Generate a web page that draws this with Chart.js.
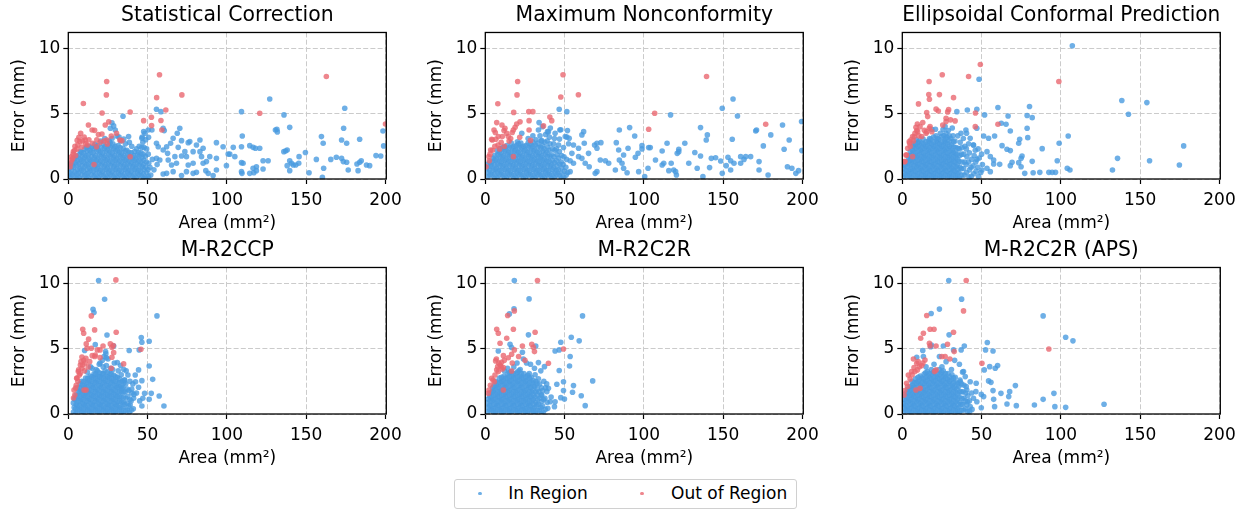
<!DOCTYPE html>
<html><head><meta charset="utf-8">
<script src="https://cdn.jsdelivr.net/npm/chart.js@4.4.0/dist/chart.umd.min.js"></script>
<style>
html,body{margin:0;padding:0;background:#fff;width:1245px;height:512px;overflow:hidden;font-family:'DejaVu Sans',sans-serif;}
canvas{position:absolute;}
#legend{position:absolute;left:454px;top:479px;width:341px;height:28px;border:1px solid #d0d0d0;border-radius:3px;background:#fff;}
.dot{position:absolute;width:3.6px;height:3.6px;border-radius:50%;}
.lt{position:absolute;font-size:17px;line-height:20px;color:#000;white-space:nowrap;font-family:'DejaVu Sans',sans-serif;}
</style></head><body>
<div id="legend"></div>
<script>
const titles = ['Statistical Correction','Maximum Nonconformity','Ellipsoidal Conformal Prediction','M-R2CCP','M-R2C2R','M-R2C2R (APS)'];
const xTicks = [0,50,100,150,200];
const xTickLabels = ['0','50','100','150','200'];
const yTicks = [0,5,10];
const yTickLabels = ['0','5','10'];
const seriesNames = ['In Region','Out of Region'];

// ---------- Statistical Correction ----------
const scInCore = [[0.8,0.1],[1.2,0.45],[0.6,0.8],[1.5,1.1],[0.4,0.3],[3.8,0.2],[4.2,0.55],[3.5,0.9],[4.4,1.25],[3.9,1.55],
[7,0.1],[6.6,0.45],[7.3,0.8],[6.8,1.15],[7.4,1.5],[6.9,1.85],[7.6,2.1],[10.2,0.25],[9.7,0.6],[10.4,0.95],[9.9,1.3],[10.3,1.65],[9.6,2.0],[10.5,2.3],
[13,0.1],[12.6,0.45],[13.4,0.8],[12.8,1.15],[13.3,1.5],[12.7,1.85],[13.5,2.2],[13.1,2.5],[16.2,0.25],[15.8,0.6],[16.5,0.95],[15.9,1.3],[16.4,1.65],[15.7,2.0],[16.3,2.35],[16.8,2.65],
[19,0.1],[19.4,0.45],[18.7,0.8],[19.3,1.15],[18.8,1.5],[19.5,1.85],[19.1,2.2],[18.6,2.55],[22.2,0.25],[21.7,0.6],[22.5,0.95],[21.9,1.3],[22.4,1.65],[21.8,2.0],[22.6,2.35],[22.1,2.7],
[25,0.1],[25.4,0.45],[24.7,0.8],[25.3,1.15],[24.8,1.5],[25.5,1.85],[24.9,2.2],[25.4,2.55],[25.8,2.9],[28.2,0.25],[27.7,0.6],[28.5,0.95],[27.9,1.3],[28.4,1.65],[27.8,2.0],[28.6,2.35],[28.1,2.7],[27.6,3.1],
[31,0.1],[31.4,0.45],[30.7,0.8],[31.3,1.15],[30.8,1.5],[31.5,1.85],[30.9,2.2],[31.4,2.55],[34.2,0.25],[33.7,0.6],[34.5,0.95],[33.9,1.3],[34.4,1.65],[33.8,2.0],[34.6,2.35],
[37,0.1],[37.4,0.45],[36.7,0.8],[37.3,1.15],[36.8,1.5],[37.5,1.85],[36.9,2.2],[40.2,0.25],[39.7,0.6],[40.5,0.95],[39.9,1.3],[40.4,1.65],[39.8,2.0],
[43,0.1],[43.4,0.45],[42.7,0.8],[43.3,1.15],[42.8,1.5],[43.5,1.85],[46.2,0.25],[45.7,0.6],[46.5,0.95],[45.9,1.3],[46.4,1.65],[45.8,2.0],[46.3,2.4],[47,2.8],[46.6,3.2],
[49,0.1],[49.3,0.5],[48.7,0.9],[49.2,1.3],[48.6,1.75],[49.4,2.3],[48.8,3.0],[48.3,3.5],[52,0.3],[51.5,0.9],[53,1.5],[54,0.7],[56,1.1]];
const scInCore2 = [[2.5,0.3],[2.2,0.65],[2.7,1.0],[2.4,1.3],[5.5,0.05],[5.3,0.4],[5.7,0.75],[5.4,1.1],[5.6,1.45],[5.2,1.75],
[8.5,0.3],[8.3,0.65],[8.7,1.0],[8.4,1.35],[8.6,1.7],[8.3,2.05],[11.5,0.05],[11.3,0.4],[11.7,0.75],[11.4,1.1],[11.6,1.45],[11.2,1.8],[11.8,2.15],[11.5,2.45],
[14.5,0.3],[14.3,0.65],[14.7,1.0],[14.4,1.35],[14.6,1.7],[14.3,2.05],[14.7,2.4],[17.5,0.05],[17.3,0.4],[17.7,0.75],[17.4,1.1],[17.6,1.45],[17.2,1.8],[17.8,2.15],[17.5,2.45],
[20.5,0.3],[20.3,0.65],[20.7,1.0],[20.4,1.35],[20.6,1.7],[20.3,2.05],[20.7,2.4],[23.5,0.05],[23.3,0.4],[23.7,0.75],[23.4,1.1],[23.6,1.45],[23.2,1.8],[23.8,2.15],[23.5,2.5],
[26.5,0.3],[26.3,0.65],[26.7,1.0],[26.4,1.35],[26.6,1.7],[26.3,2.05],[26.7,2.4],[26.4,2.75],[29.5,0.05],[29.3,0.4],[29.7,0.75],[29.4,1.1],[29.6,1.45],[29.2,1.8],[29.8,2.15],[29.5,2.5],
[32.5,0.3],[32.3,0.65],[32.7,1.0],[32.4,1.35],[32.6,1.7],[32.3,2.05],[32.7,2.4],[35.5,0.05],[35.3,0.4],[35.7,0.75],[35.4,1.1],[35.6,1.45],[35.2,1.8],[35.8,2.15],
[38.5,0.3],[38.3,0.65],[38.7,1.0],[38.4,1.35],[38.6,1.7],[38.3,2.05],[41.5,0.05],[41.3,0.4],[41.7,0.75],[41.4,1.1],[41.6,1.45],[41.2,1.8],[41.8,2.1],
[44.5,0.3],[44.3,0.65],[44.7,1.0],[44.4,1.35],[44.6,1.7],[44.3,2.05],[44.7,2.5],[47.5,0.05],[47.3,0.4],[47.7,0.75],[47.4,1.1],[47.6,1.45],[47.2,1.9],[47.8,2.4],
[50.5,0.2],[50.3,0.7],[50.7,1.2],[50.4,1.9]];
const scInSparse = [[55.6,5.33],[58.4,5.15],[34.5,4.8],[27.5,4.3],[28.6,4.06],[29.6,3.75],[26.5,3.88],[30.7,3.29],[127,6.12],[109.2,5.15],[174.3,5.41],[136,4.9],[173.6,3.88],[139.6,3.95],[130.6,3.75],[131.5,3.8],[131.8,3.6],[109.7,3.29],[159.6,3.24],[160.7,2.73],[175.5,2.73],[172.3,2.98],[183.7,3.04],[198.4,3.67],[198.8,2.53],[70.3,3.88],[68.7,3.5],[60.5,3.7],[59.8,3.88],[50.4,3.75],[66.1,3.11],[83,2.98],[75.6,2.78],[76.6,2.86],[71.4,2.93],[80.8,2.6],[85,2.35],[93.4,2.78],[97.6,2.47],[104,2.42],[109.2,2.47],[114.4,2.55],[116.5,2.42],[118,2.35],[120.7,2.35],[135.9,2.09],[138,2.22],[137,2.14],[100.8,1.91],[101.8,1.9],[105,1.71],[109.2,1.25],[110.2,1.2],[122.8,1.4],[126,1.4],[139.6,1.4],[140.7,1.2],[141.8,1.07],[145.3,1.2],[143.4,1.07],[145.5,1.71],[149.5,2.02],[138,1.02],[156.4,1.5],[165.5,1.5],[169,1.66],[172.3,1.58],[173.4,1.33],[175.5,1.28],[176.5,0.69],[182,1.15],[183.7,1.28],[184.7,1.4],[190,1.02],[194,1.79],[197,1.76],[182.7,0.64],[161,0.82],[160.2,0.13],[151.8,0.48],[139.6,0.64],[122.8,0.77],[118.6,0.64],[114.4,0.43],[117,0.48],[118.6,0.94],[116.5,0.82],[109.2,0.56],[109.5,0.43],[99.7,1.02],[93.4,0.69],[91.3,0.26],[88.2,0.43],[86.7,0.64],[80.8,0.51],[78.7,0.43],[74.5,0.56],[71.4,0.26],[66.1,0.56],[59.8,0.38],[62,0.43],[93.4,1.58],[87.1,1.33],[85,1.2],[84,1.71],[78.7,1.2],[75.6,1.07],[74.5,1.71],[71.4,1.76],[68.2,1.2],[67.2,1.71],[65.1,1.07],[62.6,1.96],[59.8,2.22],[56.7,2.47],[55.6,1.58],[57.7,1.45],[63,1.45],[62,2.47],[55.6,2.73],[64.5,2.73],[69.3,2.42],[73.5,2.09],[78.7,2.09],[83,2.09],[89.2,1.71],[188,1.07],[38,3.24],[46.4,3.11],[47.5,3.62],[50.6,3.19],[52.7,3.75],[33,2.9],[36,2.7],[40,2.5],[43,2.3],[38.5,2.8],[20.5,2.9],[23,3.1],[32,3.2],[35,3.05]];
const scOut = [[24.2,7.45],[24,6.43],[9.5,5.77],[57.5,7.97],[55.7,6.22],[71.6,6.43],[162.7,7.83],[120.7,5.03],[61.5,5.28],[52.4,4.72],[58.4,4.47],[39,5.12],[21.3,5.05],[25.5,4.37],[23.3,4.13],[47.5,4.46],[52.5,4.08],[59,3.75],[200,4.2],[12.7,4.13],[15,3.75],[16.6,3.72],[7.8,3.5],[21.2,3.44],[6.7,3.19],[5.6,2.95],[10.7,2.98],[24.4,2.98],[33.8,2.93],[4.2,2.5],[8.5,2.45],[15.4,2.73],[27.1,3.29],[17.8,2.47],[2.2,1.45],[1.1,0.94],[39,1.7],[16.2,1.1],[4.6,1.8],[2.8,1.58],[7.3,2.86],[22.5,2.9],[24.6,2.68],[3.2,2.1],[5.5,2.3],[12,2.6],[30.4,3.5],[32.5,2.98],[1.5,1.2],[2,1.7],[3,1.9],[4,2.2],[6,2.6],[9,2.9],[10,3.2],[11,2.7],[13,3.0],[18,3.0],[19,3.4],[20,2.8]];

// ---------- Maximum Nonconformity ----------
const mncInCore = [[1.2,0.15],[1.8,0.5],[1.0,0.85],[1.6,1.15],[4.3,0.3],[4.8,0.65],[4.1,1.0],[4.6,1.35],[5,1.6],
[7.4,0.1],[7.8,0.45],[7.1,0.8],[7.7,1.15],[7.2,1.5],[7.9,1.85],[7.5,2.15],[10.6,0.3],[10.1,0.65],[10.8,1.0],[10.3,1.35],[10.7,1.7],[10.2,2.05],[10.9,2.4],
[13.4,0.1],[13.9,0.45],[13.2,0.8],[13.7,1.15],[13.3,1.5],[13.8,1.85],[13.1,2.2],[13.6,2.55],[16.6,0.3],[16.1,0.65],[16.9,1.0],[16.3,1.35],[16.7,1.7],[16.2,2.05],[16.8,2.4],[16.4,2.75],
[19.4,0.1],[19.9,0.45],[19.2,0.8],[19.7,1.15],[19.3,1.5],[19.8,1.85],[19.1,2.2],[19.6,2.55],[20.2,2.85],[22.6,0.3],[22.1,0.65],[22.9,1.0],[22.3,1.35],[22.7,1.7],[22.2,2.05],[22.8,2.4],[22.4,2.75],
[25.4,0.1],[25.9,0.45],[25.2,0.8],[25.7,1.15],[25.3,1.5],[25.8,1.85],[25.1,2.2],[25.6,2.55],[28.6,0.3],[28.1,0.65],[28.9,1.0],[28.3,1.35],[28.7,1.7],[28.2,2.05],[28.8,2.4],[28.4,2.7],
[31.4,0.1],[31.9,0.45],[31.2,0.8],[31.7,1.15],[31.3,1.5],[31.8,1.85],[31.1,2.2],[31.6,2.6],[32,3.0],[34.6,0.3],[34.1,0.65],[34.9,1.0],[34.3,1.35],[34.7,1.7],[34.2,2.05],[34.8,2.45],[35.2,2.9],[34.5,3.3],
[37.4,0.1],[37.9,0.45],[37.2,0.8],[37.7,1.15],[37.3,1.5],[37.8,1.9],[37.1,2.3],[37.6,2.8],[38,3.4],[40.6,0.3],[40.1,0.65],[40.9,1.0],[40.3,1.35],[40.7,1.75],[40.2,2.2],[40.8,2.7],[40.4,3.2],[39.8,3.6],
[43.4,0.1],[43.9,0.45],[43.2,0.85],[43.7,1.25],[43.3,1.7],[43.8,2.2],[43.1,2.7],[43.6,3.1],[46.6,0.3],[46.1,0.7],[46.9,1.15],[46.3,1.6],[46.7,2.1],[46.2,2.6],[46.8,3.05],[47,3.75],
[49.4,0.15],[49.8,0.6],[49.1,1.1],[49.6,1.7],[49.3,2.4],[33.9,4.31],[23,3.5],[33.5,3.75],[39.2,3.62],[47.6,3.77],[51.4,3.2],[35.6,2.93],[46.6,5.33],[51.4,5.15],[52,0.5],[53.5,1.4],[52.5,2.7],[44,3.5],[36,4.0],[41,3.9],[30,3.3],[27,3.1]];
const mncInCore2 = [[3,0.3],[2.8,0.65],[3.2,1.0],[2.9,1.3],[6,0.05],[5.8,0.4],[6.2,0.75],[5.9,1.1],[6.1,1.45],[5.8,1.8],
[9,0.3],[8.8,0.65],[9.2,1.0],[8.9,1.35],[9.1,1.7],[8.8,2.05],[9.2,2.3],[12,0.05],[11.8,0.4],[12.2,0.75],[11.9,1.1],[12.1,1.45],[11.7,1.8],[12.3,2.15],[12,2.45],
[15,0.3],[14.8,0.65],[15.2,1.0],[14.9,1.35],[15.1,1.7],[14.8,2.05],[15.2,2.4],[18,0.05],[17.8,0.4],[18.2,0.75],[17.9,1.1],[18.1,1.45],[17.7,1.8],[18.3,2.15],[18,2.5],
[21,0.3],[20.8,0.65],[21.2,1.0],[20.9,1.35],[21.1,1.7],[20.8,2.05],[21.2,2.4],[21,2.7],[24,0.05],[23.8,0.4],[24.2,0.75],[23.9,1.1],[24.1,1.45],[23.7,1.8],[24.3,2.15],[24,2.5],
[27,0.3],[26.8,0.65],[27.2,1.0],[26.9,1.35],[27.1,1.7],[26.8,2.05],[27.2,2.4],[27,2.75],[30,0.05],[29.8,0.4],[30.2,0.75],[29.9,1.1],[30.1,1.45],[29.7,1.8],[30.3,2.15],[30,2.5],[29.8,2.85],
[33,0.3],[32.8,0.65],[33.2,1.0],[32.9,1.35],[33.1,1.7],[32.8,2.05],[33.2,2.4],[33,2.75],[36,0.05],[35.8,0.4],[36.2,0.75],[35.9,1.1],[36.1,1.45],[35.7,1.8],[36.3,2.15],[36,2.55],
[39,0.3],[38.8,0.65],[39.2,1.0],[38.9,1.35],[39.1,1.7],[38.8,2.05],[39.2,2.45],[39,2.9],[42,0.05],[41.8,0.4],[42.2,0.75],[41.9,1.1],[42.1,1.45],[41.7,1.85],[42.3,2.3],
[45,0.3],[44.8,0.65],[45.2,1.0],[44.9,1.4],[45.1,1.85],[44.8,2.3],[48,0.05],[47.8,0.45],[48.2,0.85],[47.9,1.3],[48.1,1.8],[51,0.3],[50.8,0.9],[51.2,1.5]];
const mncInSparse = [[149.4,5.41],[156.2,6.12],[159,4.82],[116.8,4.9],[187.4,4.13],[199.4,4.39],[135.7,3.93],[140,3.37],[139.3,2.98],[155.7,3.04],[170.5,3.67],[171,3.75],[180,3.37],[191.6,2.98],[175.3,2.53],[188.4,2.27],[199.6,2.17],[91,3.93],[84.5,3.75],[94.2,3.29],[62,3.62],[60.9,3.37],[51.8,3.7],[50.4,3.24],[52.9,3.11],[68.9,2.6],[70.4,2.73],[72.9,2.78],[70.4,2.35],[82.6,2.78],[84.1,2.22],[90,2.35],[98.8,2.55],[98.8,2.3],[103,2.4],[104,2.4],[114.6,2.73],[111.5,2.14],[122,2.09],[121,1.96],[125.8,2.73],[122,2.27],[132.1,2.02],[135.7,1.76],[142.5,1.58],[145.2,1.63],[148.4,1.38],[151.9,1.02],[153,1.66],[154.7,1.4],[154.7,0.69],[156.8,1.2],[161,1.71],[163.1,1.5],[164.2,1.71],[167.3,1.71],[172.6,1.33],[172.6,0.69],[161,1.2],[133.6,0.82],[141.4,0.87],[137.2,0.18],[149.4,0.43],[178.3,0.31],[190.5,0.94],[193.3,0.82],[195.8,0.43],[197.5,0.64],[128.3,1.2],[117.2,1.2],[120,0.56],[118.8,0.69],[120.5,0.31],[115.7,0.64],[111.5,1.07],[112.5,1.2],[107.3,1.45],[102.6,0.82],[100.5,0.18],[96.7,0.56],[89.4,0.48],[87.2,0.82],[86.2,1.2],[87.2,1.84],[84.5,1.45],[82,0.69],[77.8,1.2],[75.7,1.4],[72.5,1.45],[70.4,0.56],[69.3,0.43],[65.5,0.94],[63,1.2],[60.9,1.58],[65.1,1.96],[58.8,1.71],[55.6,1.2],[54.6,1.96],[58.8,2.35],[55.6,2.6],[62.4,2.73],[53.5,0.56],[96.3,1.96],[94.6,1.66]];
const mncOut = [[20.4,7.45],[20,6.43],[7.9,5.75],[49,7.97],[47.6,6.27],[58.7,6.44],[139.5,7.83],[106.8,5.03],[103,3.8],[176.8,4.18],[17.9,5.09],[27.4,5.15],[30,5.15],[21.9,4.37],[19.8,4.2],[18.8,3.95],[17.7,3.75],[10.5,4.13],[12.4,3.88],[7.2,4.31],[40.7,4.74],[41.9,4.46],[27.6,4.46],[36.7,4.06],[27.6,3.75],[8.2,3.24],[6.3,3.55],[5.5,3.75],[4,3.04],[10.7,3.24],[13.5,3.5],[14.5,3.24],[28.5,2.95],[17.7,1.71],[17,3.55],[4.4,2.98],[6.6,3.04],[21.7,3.19],[2.3,1.71],[3.4,2.22],[0.5,0.94],[2.5,1.4],[4.5,2.2],[6,2.5],[8,2.6],[10,2.8],[12,2.5],[15,2.9],[3,1.9],[9,2.3],[11.8,3.7],[16,3.1]];

// ---------- Ellipsoidal Conformal Prediction ----------
const ecpInCore = [[0.8,0.1],[1.3,0.45],[0.7,0.8],[1.4,1.1],[3.4,0.25],[3.8,0.6],[3.2,0.95],[3.7,1.3],[3.9,1.6],
[6.1,0.1],[5.7,0.45],[6.3,0.8],[5.8,1.15],[6.2,1.5],[5.9,1.85],[6.4,2.2],[6.6,2.5],[8.6,0.25],[8.2,0.6],[8.9,0.95],[8.3,1.3],[8.7,1.65],[8.4,2.0],[8.8,2.35],[8.5,2.7],[9,3.0],
[11.1,0.1],[10.7,0.45],[11.3,0.8],[10.8,1.15],[11.2,1.5],[10.9,1.85],[11.4,2.2],[11,2.55],[10.6,2.9],[13.6,0.25],[13.2,0.6],[13.9,0.95],[13.3,1.3],[13.7,1.65],[13.4,2.0],[13.8,2.35],[13.5,2.7],[13.1,3.05],
[16.1,0.1],[15.7,0.45],[16.3,0.8],[15.8,1.15],[16.2,1.5],[15.9,1.85],[16.4,2.2],[16,2.55],[16.5,2.9],[18.6,0.25],[18.2,0.6],[18.9,0.95],[18.3,1.3],[18.7,1.65],[18.4,2.0],[18.8,2.35],[18.5,2.7],[18.1,3.05],
[21.1,0.1],[20.7,0.45],[21.3,0.8],[20.8,1.15],[21.2,1.5],[20.9,1.85],[21.4,2.2],[21,2.55],[21.5,2.9],[21.2,3.3],[23.6,0.25],[23.2,0.6],[23.9,0.95],[23.3,1.3],[23.7,1.65],[23.4,2.0],[23.8,2.35],[23.5,2.7],[23.1,3.05],[24,3.5],
[26.1,0.1],[25.7,0.45],[26.3,0.8],[25.8,1.15],[26.2,1.5],[25.9,1.85],[26.4,2.2],[26,2.55],[26.5,2.9],[26.2,3.3],[25.7,3.8],[28.6,0.25],[28.2,0.6],[28.9,0.95],[28.3,1.3],[28.7,1.65],[28.4,2.0],[28.8,2.35],[28.5,2.75],[28.1,3.2],[29,3.7],
[31.1,0.1],[30.7,0.45],[31.3,0.8],[30.8,1.15],[31.2,1.5],[30.9,1.85],[31.4,2.2],[31,2.6],[30.6,3.1],[31.5,3.9],[33.6,0.25],[33.2,0.6],[33.9,0.95],[33.3,1.3],[33.7,1.65],[33.4,2.0],[33.8,2.4],[33.2,2.9],
[36.1,0.1],[35.7,0.5],[36.3,0.9],[35.8,1.35],[36.2,1.8],[35.9,2.3],[36.5,2.8],[39,0.3],[38.6,0.8],[39.3,1.3],[38.8,1.9],[39.4,2.5],[38.5,3.1],
[42,0.15],[42.4,0.7],[41.7,1.3],[42.3,2.0],[41.8,2.7],[45,0.4],[44.6,1.0],[45.3,1.8],[44.8,2.6],[48,0.2],[47.6,0.9],[48.4,1.6],[47.8,2.3],
[42.8,3.11],[47,3.88],[44.9,2.6],[46,2.2],[47,1.5],[50,1.9],[50.5,1.1],[49.5,0.5],[37,3.5],[35,3.3],[32,3.3],[27,4.0]];
const ecpInCore2 = [[2.1,0.3],[2.3,0.65],[1.9,1.0],[2.4,1.3],[4.8,0.05],[4.6,0.4],[5,0.75],[4.7,1.1],[4.9,1.45],[4.6,1.8],[5,2.1],
[7.3,0.3],[7.1,0.65],[7.5,1.0],[7.2,1.35],[7.4,1.7],[7.1,2.05],[7.5,2.4],[7.3,2.7],[9.8,0.05],[9.6,0.4],[10,0.75],[9.7,1.1],[9.9,1.45],[9.5,1.8],[10.1,2.15],[9.8,2.5],[9.9,2.8],
[12.3,0.3],[12.1,0.65],[12.5,1.0],[12.2,1.35],[12.4,1.7],[12.1,2.05],[12.5,2.4],[12.3,2.75],[14.8,0.05],[14.6,0.4],[15,0.75],[14.7,1.1],[14.9,1.45],[14.5,1.8],[15.1,2.15],[14.8,2.5],[14.9,2.85],
[17.3,0.3],[17.1,0.65],[17.5,1.0],[17.2,1.35],[17.4,1.7],[17.1,2.05],[17.5,2.4],[17.3,2.75],[17.2,3.1],[19.8,0.05],[19.6,0.4],[20,0.75],[19.7,1.1],[19.9,1.45],[19.5,1.8],[20.1,2.15],[19.8,2.5],[19.9,2.85],[19.7,3.2],
[22.3,0.3],[22.1,0.65],[22.5,1.0],[22.2,1.35],[22.4,1.7],[22.1,2.05],[22.5,2.4],[22.3,2.75],[22.2,3.1],[24.8,0.05],[24.6,0.4],[25,0.75],[24.7,1.1],[24.9,1.45],[24.5,1.8],[25.1,2.15],[24.8,2.5],[24.9,2.85],[24.7,3.25],
[27.3,0.3],[27.1,0.65],[27.5,1.0],[27.2,1.35],[27.4,1.7],[27.1,2.05],[27.5,2.4],[27.3,2.75],[27.2,3.1],[27.5,3.5],[29.8,0.05],[29.6,0.4],[30,0.75],[29.7,1.1],[29.9,1.45],[29.5,1.8],[30.1,2.15],[29.8,2.5],[29.9,2.9],[29.7,3.3],
[32.3,0.3],[32.1,0.65],[32.5,1.0],[32.2,1.35],[32.4,1.7],[32.1,2.05],[32.5,2.45],[32.3,2.85],[34.8,0.05],[34.6,0.4],[35,0.75],[34.7,1.1],[34.9,1.5],[34.5,1.9],[35.1,2.35],
[37.5,0.3],[37.3,0.8],[37.7,1.3],[37.4,1.9],[37.6,2.4],[40.5,0.5],[40.3,1.1],[40.7,1.7],[40.4,2.3],[43.5,0.2],[43.3,0.9],[43.7,1.5],[46.5,0.6],[46.3,1.3]];
const ecpInSparse = [[107.2,10.18],[48.4,7.63],[138.4,6.0],[154.2,5.84],[142.6,4.95],[60.3,5.46],[80.2,5.54],[78.7,4.85],[81.9,4.69],[66.7,4.82],[65.4,4.18],[62.4,4.26],[51.9,4.9],[47,5.33],[34.4,5.15],[41,5.28],[78.7,3.88],[68.1,3.67],[104.6,3.29],[79.1,3.16],[74,3.04],[73.4,2.73],[58.2,3.29],[54.4,3.11],[51.3,3.29],[98.9,2.73],[88.2,2.32],[62.9,2.55],[66,2.27],[68.1,2.17],[177.4,2.53],[135.7,1.58],[155.9,1.4],[174.7,1.07],[132.5,0.69],[97.7,1.4],[81.9,1.35],[74.9,1.58],[75.5,1.76],[73.4,1.25],[69.2,1.28],[68.1,1.02],[57.6,1.45],[55.5,1.71],[53.4,2.09],[61.4,1.12],[57.6,1.15],[104,0.82],[105.7,0.69],[92.4,0.51],[94.5,0.51],[96.6,0.51],[86.7,0.51],[82.5,0.48],[77.2,0.43],[74.9,0.94],[55.5,0.56],[53.4,0.82],[50.2,0.69],[40.1,3.75],[40.5,3.5],[20.9,3.8],[18.6,3.8]];
const ecpOut = [[49.2,8.75],[25.2,7.97],[16.9,7.45],[41.8,7.83],[98.7,7.45],[16.7,6.45],[17.1,6.1],[23.4,6.45],[32.3,6.22],[10.2,5.74],[21.3,5.34],[22.7,5.2],[15.4,5.08],[16,4.77],[29.2,5.3],[28.6,5.13],[27.6,4.64],[30.4,4.52],[33.3,4.44],[46.1,5.05],[46,4.0],[60.3,4.18],[25.5,4.13],[27.6,4.39],[9.5,4.2],[11.2,4.0],[12.9,4.31],[17.5,4.0],[17,3.88],[13.9,3.72],[18.6,3.62],[15,3.5],[9.1,3.7],[8.6,3.95],[9.7,3.62],[8,3.5],[7.6,3.24],[6.5,3.24],[12.2,3.24],[15.4,3.62],[5.5,3.0],[4.6,2.73],[4.4,2.86],[3.4,2.35],[2.3,1.84],[1.3,1.33],[2.7,1.84],[1.7,1.33],[6.5,1.71],[5,2.5],[7,2.9],[10.5,3.3]];

// ---------- M-R2CCP ----------
const r2ccpInCore = [[3.3,0.15],[3.7,0.5],[3.2,0.85],[3.8,1.15],[6,0.3],[5.6,0.65],[6.2,1.0],[5.8,1.35],[6.3,1.7],[5.7,2.0],
[8.5,0.1],[8.1,0.45],[8.8,0.8],[8.3,1.15],[8.7,1.5],[8.2,1.85],[8.9,2.2],[8.4,2.5],[11,0.3],[10.6,0.65],[11.3,1.0],[10.8,1.35],[11.2,1.7],[10.7,2.05],[11.4,2.4],[10.9,2.75],
[13.5,0.1],[13.1,0.45],[13.8,0.8],[13.3,1.15],[13.7,1.5],[13.2,1.85],[13.9,2.2],[13.4,2.55],[13.8,2.9],[16,0.3],[15.6,0.65],[16.3,1.0],[15.8,1.35],[16.2,1.7],[15.7,2.05],[16.4,2.4],[15.9,2.75],[16.3,3.1],
[18.5,0.1],[18.1,0.45],[18.8,0.8],[18.3,1.15],[18.7,1.5],[18.2,1.85],[18.9,2.2],[18.4,2.55],[18.8,2.9],[18.3,3.3],[21,0.3],[20.6,0.65],[21.3,1.0],[20.8,1.35],[21.2,1.7],[20.7,2.05],[21.4,2.4],[20.9,2.75],[21.3,3.1],
[23.5,0.1],[23.1,0.45],[23.8,0.8],[23.3,1.15],[23.7,1.5],[23.2,1.85],[23.9,2.2],[23.4,2.55],[23.8,2.9],[23.2,3.3],[24,3.7],[26,0.3],[25.6,0.65],[26.3,1.0],[25.8,1.35],[26.2,1.7],[25.7,2.05],[26.4,2.4],[25.9,2.75],[26.3,3.1],[26.7,3.5],
[28.5,0.1],[28.1,0.45],[28.8,0.8],[28.3,1.15],[28.7,1.5],[28.2,1.85],[28.9,2.2],[28.4,2.55],[28.8,2.95],[31,0.3],[30.6,0.65],[31.3,1.0],[30.8,1.35],[31.2,1.7],[30.7,2.05],[31.4,2.4],[30.9,2.8],
[33.5,0.1],[33.1,0.5],[33.8,0.9],[33.3,1.3],[33.7,1.7],[33.2,2.1],[33.9,2.5],[33.4,3.0],[36,0.3],[35.6,0.75],[36.3,1.2],[35.8,1.7],[36.2,2.3],[35.5,2.6],
[38.5,0.15],[38.1,0.6],[38.8,1.1],[38.2,1.8],[38.9,2.5],[41,0.4],[41.4,1.5],[40.7,2.3],[28,3.4],[31.5,3.3],[22,3.6],[19.5,3.8],[15,3.5],[12,3.2],[35,3.4],[25,4.2]];
const r2ccpInCore2 = [[4.8,0.05],[4.6,0.4],[5,0.75],[4.7,1.1],[4.9,1.45],[7.3,0.3],[7.1,0.65],[7.5,1.0],[7.2,1.35],[7.4,1.7],[7.1,2.05],[7.4,2.3],
[9.8,0.05],[9.6,0.4],[10,0.75],[9.7,1.1],[9.9,1.45],[9.5,1.8],[10.1,2.15],[9.8,2.5],[12.3,0.3],[12.1,0.65],[12.5,1.0],[12.2,1.35],[12.4,1.7],[12.1,2.05],[12.5,2.4],[12.3,2.75],
[14.8,0.05],[14.6,0.4],[15,0.75],[14.7,1.1],[14.9,1.45],[14.5,1.8],[15.1,2.15],[14.8,2.5],[14.9,2.85],[17.3,0.3],[17.1,0.65],[17.5,1.0],[17.2,1.35],[17.4,1.7],[17.1,2.05],[17.5,2.4],[17.3,2.75],[17.2,3.05],
[19.8,0.05],[19.6,0.4],[20,0.75],[19.7,1.1],[19.9,1.45],[19.5,1.8],[20.1,2.15],[19.8,2.5],[19.9,2.85],[19.7,3.15],[22.3,0.3],[22.1,0.65],[22.5,1.0],[22.2,1.35],[22.4,1.7],[22.1,2.05],[22.5,2.4],[22.3,2.75],[22.2,3.1],
[24.8,0.05],[24.6,0.4],[25,0.75],[24.7,1.1],[24.9,1.45],[24.5,1.8],[25.1,2.15],[24.8,2.5],[24.9,2.85],[24.7,3.2],[27.3,0.3],[27.1,0.65],[27.5,1.0],[27.2,1.35],[27.4,1.7],[27.1,2.05],[27.5,2.4],[27.3,2.75],[27.2,3.05],
[29.8,0.05],[29.6,0.4],[30,0.75],[29.7,1.1],[29.9,1.45],[29.5,1.8],[30.1,2.15],[29.8,2.5],[29.9,2.85],[32.3,0.3],[32.1,0.65],[32.5,1.0],[32.2,1.35],[32.4,1.7],[32.1,2.05],[32.5,2.4],[32.3,2.7],
[34.8,0.05],[34.6,0.45],[35,0.85],[34.7,1.25],[34.9,1.65],[34.5,2.05],[35.1,2.4],[37.3,0.3],[37.1,0.8],[37.5,1.35],[37.2,1.9],[39.8,0.3],[39.6,1.0],[40,1.6]];
const r2ccpInSparse = [[19.1,10.2],[22.9,8.77],[15.6,8.01],[16.2,7.75],[55.9,7.5],[24.4,6.04],[17,5.3],[46,5.84],[46.4,5.48],[51,5.56],[44.7,4.9],[38.4,4.85],[10.3,4.85],[28.6,5.2],[23.5,4.77],[23.7,4.6],[44.3,3.37],[51,3.67],[42.2,2.98],[46.4,2.55],[53.2,2.65],[57.3,1.38],[60.3,0.61],[48.1,1.58],[52.3,1.58],[44.3,2.04],[41.2,1.2],[47,1.2],[46.4,0.61],[39,0.69],[51,1.12],[33.8,1.96],[35.5,2.6],[37.6,2.98],[42.4,2.47],[30.9,3.93],[20,3.9],[24,4.3],[29,3.9],[33,3.7],[36.5,3.3],[14,3.6],[17.5,3.4],[22.5,4.4],[21.5,4.1],[43,1.6],[40,1.9],[45,1.0]];
const r2ccpOut = [[30,10.25],[14.5,7.5],[9.1,6.48],[9.7,6.17],[16.6,6.43],[30.2,6.25],[11.3,5.36],[12.8,5.72],[11.8,5.03],[14.5,5.03],[21.9,5.2],[26.5,5.36],[27.5,5.1],[28.6,4.69],[17,4.51],[45.8,4.95],[34.9,3.83],[27.1,3.5],[27.5,4.34],[16.7,4.39],[11.2,1.84],[8.6,4.35],[9.7,4.1],[7.6,3.75],[8.6,3.5],[6.5,3.37],[7,2.98],[5.5,2.75],[4.6,1.99],[4.1,1.45],[3.3,1.22],[3.6,1.84],[5.3,2.73],[6.3,3.24],[9,3.75],[11.1,4.26],[15.1,4.46],[18.3,4.9],[20,4.9],[28.4,5.23],[20,4.31],[9.9,1.84],[8,4.0],[10.5,3.9],[7.5,3.1],[6,2.5],[5,2.2],[12.5,3.6],[10.2,3.3],[13.5,4.0]];

// ---------- M-R2C2R ----------
const r2c2rInCore = [[1.3,0.15],[1.7,0.5],[1.2,0.85],[1.8,1.15],[4,0.3],[3.6,0.65],[4.2,1.0],[3.8,1.35],[4.3,1.7],[4.6,2.0],
[6.5,0.1],[6.1,0.45],[6.8,0.8],[6.3,1.15],[6.7,1.5],[6.2,1.85],[6.9,2.2],[6.4,2.5],[9,0.3],[8.6,0.65],[9.3,1.0],[8.8,1.35],[9.2,1.7],[8.7,2.05],[9.4,2.4],[8.9,2.75],
[11.5,0.1],[11.1,0.45],[11.8,0.8],[11.3,1.15],[11.7,1.5],[11.2,1.85],[11.9,2.2],[11.4,2.55],[11.8,2.9],[14,0.3],[13.6,0.65],[14.3,1.0],[13.8,1.35],[14.2,1.7],[13.7,2.05],[14.4,2.4],[13.9,2.75],[14.3,3.1],
[16.5,0.1],[16.1,0.45],[16.8,0.8],[16.3,1.15],[16.7,1.5],[16.2,1.85],[16.9,2.2],[16.4,2.55],[16.8,2.9],[16.3,3.25],[19,0.3],[18.6,0.65],[19.3,1.0],[18.8,1.35],[19.2,1.7],[18.7,2.05],[19.4,2.4],[18.9,2.75],[19.3,3.1],
[21.5,0.1],[21.1,0.45],[21.8,0.8],[21.3,1.15],[21.7,1.5],[21.2,1.85],[21.9,2.2],[21.4,2.55],[21.8,2.9],[21.2,3.3],[24,0.3],[23.6,0.65],[24.3,1.0],[23.8,1.35],[24.2,1.7],[23.7,2.05],[24.4,2.4],[23.9,2.75],[24.3,3.1],
[26.5,0.1],[26.1,0.45],[26.8,0.8],[26.3,1.15],[26.7,1.5],[26.2,1.85],[26.9,2.2],[26.4,2.55],[26.8,2.95],[29,0.3],[28.6,0.65],[29.3,1.0],[28.8,1.35],[29.2,1.7],[28.7,2.05],[29.4,2.4],[28.9,2.8],
[31.5,0.1],[31.1,0.5],[31.8,0.9],[31.3,1.3],[31.7,1.7],[31.2,2.1],[31.9,2.5],[31.4,3.0],[34,0.3],[33.6,0.75],[34.3,1.2],[33.8,1.7],[34.2,2.3],[33.5,2.7],
[36.5,0.15],[36.1,0.6],[36.8,1.1],[36.2,1.8],[36.9,2.5],[39,0.9],[38.7,2.3],[41.5,1.3]];
const r2c2rInCore2 = [[2.8,0.3],[2.6,0.65],[3,1.0],[2.7,1.35],[2.9,1.6],[5.3,0.05],[5.1,0.4],[5.5,0.75],[5.2,1.1],[5.4,1.45],[5.1,1.8],[5.5,2.15],
[7.8,0.3],[7.6,0.65],[8,1.0],[7.7,1.35],[7.9,1.7],[7.6,2.05],[8,2.4],[10.3,0.05],[10.1,0.4],[10.5,0.75],[10.2,1.1],[10.4,1.45],[10,1.8],[10.6,2.15],[10.3,2.5],[10.2,2.8],
[12.8,0.3],[12.6,0.65],[13,1.0],[12.7,1.35],[12.9,1.7],[12.6,2.05],[13,2.4],[12.8,2.75],[15.3,0.05],[15.1,0.4],[15.5,0.75],[15.2,1.1],[15.4,1.45],[15,1.8],[15.6,2.15],[15.3,2.5],[15.4,2.85],[15.2,3.15],
[17.8,0.3],[17.6,0.65],[18,1.0],[17.7,1.35],[17.9,1.7],[17.6,2.05],[18,2.4],[17.8,2.75],[17.7,3.1],[20.3,0.05],[20.1,0.4],[20.5,0.75],[20.2,1.1],[20.4,1.45],[20,1.8],[20.6,2.15],[20.3,2.5],[20.4,2.85],[20.2,3.2],
[22.8,0.3],[22.6,0.65],[23,1.0],[22.7,1.35],[22.9,1.7],[22.6,2.05],[23,2.4],[22.8,2.75],[22.7,3.1],[25.3,0.05],[25.1,0.4],[25.5,0.75],[25.2,1.1],[25.4,1.45],[25,1.8],[25.6,2.15],[25.3,2.5],[25.4,2.85],
[27.8,0.3],[27.6,0.65],[28,1.0],[27.7,1.35],[27.9,1.7],[27.6,2.05],[28,2.4],[27.8,2.75],[27.7,3.1],[30.3,0.05],[30.1,0.4],[30.5,0.75],[30.2,1.1],[30.4,1.45],[30,1.8],[30.6,2.15],[30.3,2.55],
[32.8,0.3],[32.6,0.7],[33,1.1],[32.7,1.5],[32.9,1.9],[32.6,2.3],[35.3,0.05],[35.1,0.5],[35.5,0.95],[35.2,1.45],[35.4,2.0],[37.8,0.35],[37.6,1.2],[38,2.0]];
const r2c2rInSparse = [[18.3,10.2],[27.6,8.8],[18.1,8.04],[15.2,7.65],[61.3,7.5],[27.2,6.05],[15.6,5.33],[16.6,5.08],[8.2,4.82],[23.4,4.72],[54.2,5.87],[59.2,5.59],[53.5,4.39],[47.6,5.49],[44,4.82],[46.6,4.9],[31.8,5.2],[33.5,3.93],[37.3,3.62],[46.6,3.32],[53.1,3.67],[67.7,2.53],[55.6,2.17],[49.3,2.47],[45.1,2.27],[55,1.66],[49.3,1.79],[60.5,1.4],[63,0.64],[49.9,1.15],[47.6,1.25],[43.6,0.56],[39.4,0.43],[38.8,1.71],[39.8,1.96],[44,0.94],[40.9,0.94],[35.6,1.45],[20,3.9],[24,4.2],[28.5,3.8],[31,3.5],[35,3.3],[14,3.5],[18,3.6],[22,3.4],[26,3.9],[12,3.3]];
const r2c2rOut = [[32.9,10.2],[18.3,7.88],[14.1,7.53],[7.2,6.48],[8.2,6.17],[17.7,6.48],[31.4,6.25],[13.5,5.79],[9.3,5.41],[23.4,5.2],[29.3,5.33],[30.3,5.1],[18.3,4.9],[16.6,4.57],[11.4,4.46],[49.3,4.97],[31,4.77],[39.8,3.88],[16.6,3.29],[11.4,1.84],[2.3,1.84],[1.9,1.58],[4,2.73],[6.5,4.06],[7.8,3.62],[9.9,3.62],[10.7,3.44],[7.2,3.37],[6.1,2.98],[8.2,3.24],[9.3,3.75],[11.4,3.55],[5.7,2.47],[8.5,3.9],[10.2,3.95],[7,4.2],[3.2,2.2],[4.8,2.6],[12,4.1],[14.5,4.3],[21,4.4],[17,3.9],[25,4.1]];

// ---------- M-R2C2R (APS) ----------
const apsInCore = [[0.9,0.1],[1.3,0.45],[0.7,0.8],[1.2,1.1],[3.5,0.25],[3.1,0.6],[3.8,0.95],[3.3,1.3],[3.7,1.6],[3.4,1.9],
[6,0.1],[5.6,0.45],[6.3,0.8],[5.8,1.15],[6.2,1.5],[5.7,1.85],[6.4,2.2],[6.1,2.5],[8.5,0.25],[8.1,0.6],[8.8,0.95],[8.3,1.3],[8.7,1.65],[8.2,2.0],[8.9,2.35],[8.4,2.7],
[11,0.1],[10.6,0.45],[11.3,0.8],[10.8,1.15],[11.2,1.5],[10.7,1.85],[11.4,2.2],[10.9,2.55],[11.3,2.9],[13.5,0.25],[13.1,0.6],[13.8,0.95],[13.3,1.3],[13.7,1.65],[13.2,2.0],[13.9,2.35],[13.4,2.7],[13.8,3.05],
[16,0.1],[15.6,0.45],[16.3,0.8],[15.8,1.15],[16.2,1.5],[15.7,1.85],[16.4,2.2],[15.9,2.55],[16.3,2.9],[15.8,3.25],[18.5,0.25],[18.1,0.6],[18.8,0.95],[18.3,1.3],[18.7,1.65],[18.2,2.0],[18.9,2.35],[18.4,2.7],[18.8,3.05],[18.3,3.4],
[21,0.1],[20.6,0.45],[21.3,0.8],[20.8,1.15],[21.2,1.5],[20.7,1.85],[21.4,2.2],[20.9,2.55],[21.3,2.9],[20.8,3.3],[23.5,0.25],[23.1,0.6],[23.8,0.95],[23.3,1.3],[23.7,1.65],[23.2,2.0],[23.9,2.35],[23.4,2.7],[23.8,3.05],[23.3,3.4],
[26,0.1],[25.6,0.45],[26.3,0.8],[25.8,1.15],[26.2,1.5],[25.7,1.85],[26.4,2.2],[25.9,2.55],[26.3,2.9],[25.8,3.3],[28.5,0.25],[28.1,0.6],[28.8,0.95],[28.3,1.3],[28.7,1.65],[28.2,2.0],[28.9,2.35],[28.4,2.7],[28.8,3.1],
[31,0.1],[30.6,0.45],[31.3,0.8],[30.8,1.15],[31.2,1.5],[30.7,1.85],[31.4,2.2],[30.9,2.6],[31.3,3.0],[33.5,0.25],[33.1,0.6],[33.8,0.95],[33.3,1.3],[33.7,1.65],[33.2,2.0],[33.9,2.4],[33.4,2.8],
[36,0.1],[35.6,0.5],[36.3,0.9],[35.8,1.3],[36.2,1.7],[35.7,2.1],[36.4,2.6],[38.5,0.3],[38.1,0.75],[38.8,1.2],[38.3,1.7],[38.9,2.2],[41,0.2],[40.7,0.7],[41.3,1.4],[44,0.35],[43.7,1.6]];
const apsInCore2 = [[2.2,0.3],[2,0.65],[2.4,1.0],[2.1,1.35],[2.3,1.6],[4.8,0.05],[4.6,0.4],[5,0.75],[4.7,1.1],[4.9,1.45],[4.6,1.8],[5,2.1],
[7.3,0.3],[7.1,0.65],[7.5,1.0],[7.2,1.35],[7.4,1.7],[7.1,2.05],[7.5,2.4],[9.8,0.05],[9.6,0.4],[10,0.75],[9.7,1.1],[9.9,1.45],[9.5,1.8],[10.1,2.15],[9.8,2.5],[9.9,2.8],
[12.3,0.3],[12.1,0.65],[12.5,1.0],[12.2,1.35],[12.4,1.7],[12.1,2.05],[12.5,2.4],[12.3,2.75],[14.8,0.05],[14.6,0.4],[15,0.75],[14.7,1.1],[14.9,1.45],[14.5,1.8],[15.1,2.15],[14.8,2.5],[14.9,2.85],[14.7,3.15],
[17.3,0.3],[17.1,0.65],[17.5,1.0],[17.2,1.35],[17.4,1.7],[17.1,2.05],[17.5,2.4],[17.3,2.75],[17.2,3.1],[19.8,0.05],[19.6,0.4],[20,0.75],[19.7,1.1],[19.9,1.45],[19.5,1.8],[20.1,2.15],[19.8,2.5],[19.9,2.85],[19.7,3.2],
[22.3,0.3],[22.1,0.65],[22.5,1.0],[22.2,1.35],[22.4,1.7],[22.1,2.05],[22.5,2.4],[22.3,2.75],[22.2,3.1],[24.8,0.05],[24.6,0.4],[25,0.75],[24.7,1.1],[24.9,1.45],[24.5,1.8],[25.1,2.15],[24.8,2.5],[24.9,2.85],[24.7,3.2],
[27.3,0.3],[27.1,0.65],[27.5,1.0],[27.2,1.35],[27.4,1.7],[27.1,2.05],[27.5,2.4],[27.3,2.75],[27.2,3.1],[29.8,0.05],[29.6,0.4],[30,0.75],[29.7,1.1],[29.9,1.45],[29.5,1.8],[30.1,2.15],[29.8,2.5],[29.9,2.85],
[32.3,0.3],[32.1,0.65],[32.5,1.0],[32.2,1.35],[32.4,1.7],[32.1,2.05],[32.5,2.4],[32.3,2.75],[34.8,0.05],[34.6,0.4],[35,0.75],[34.7,1.1],[34.9,1.5],[34.5,1.9],[35.1,2.3],
[37.3,0.3],[37.1,0.75],[37.5,1.2],[37.2,1.7],[37.4,2.3],[39.8,0.4],[39.6,1.0],[40,1.6],[42.5,0.2],[42.3,1.0]];
const apsInSparse = [[29.3,10.2],[37.4,8.78],[23.4,8.02],[18.2,7.68],[88.8,7.5],[29.5,6.05],[17.9,5.15],[103,5.87],[107.6,5.59],[53.6,5.47],[52.5,4.9],[57.2,4.82],[39.1,5.2],[37.1,4.9],[32.3,4.9],[25.9,5.2],[13.3,4.39],[55.1,3.62],[60.1,3.7],[58.6,3.5],[51.7,3.37],[54.4,2.53],[55.9,2.42],[71.3,2.17],[46.6,2.35],[57.2,1.79],[67.7,1.71],[62.2,1.58],[67.1,1.33],[95.6,1.58],[88.8,1.12],[57.6,1.12],[51.3,1.33],[49.8,1.5],[83.3,0.69],[71.9,0.64],[96.2,0.56],[103,0.51],[127.2,0.74],[66,0.77],[58.2,0.56],[49.8,0.48],[40.7,1.84],[38.6,3.24],[39.7,2.86],[36.5,2.47],[42.8,2.47],[40.3,2.09],[46.4,1.71],[44.9,1.2],[41.1,0.94],[47,0.94],[42.8,0.56],[12.9,4.85],[9.1,4.34],[23.4,4.39],[27.6,4.0],[18.3,5.28],[33,4.1],[36,3.8],[25,3.6],[20,3.8],[15,3.6],[31,3.4],[38,3.2]];
const apsOut = [[40.3,10.2],[38.6,7.88],[15.4,7.53],[17.5,6.48],[20,6.48],[13.3,6.17],[11.6,5.79],[32.3,6.25],[17.1,5.41],[17.5,5.2],[21.3,5.2],[28.5,5.33],[32.7,4.77],[24.9,4.39],[14.3,4.13],[92.4,4.97],[50.2,3.88],[21.3,3.37],[20.3,3.24],[8.6,1.84],[11.2,1.96],[1.1,1.45],[7,4.2],[9.1,3.88],[10.8,3.62],[7.4,3.55],[5.9,3.24],[8,3.24],[3.8,2.98],[4.9,2.68],[2.7,2.35],[12.2,3.7],[9.5,3.37],[1.5,1.8],[6.2,3.0],[10,4.0],[13,3.9],[27,4.4],[30,4.2],[3.3,2.1]];

const panelIn = [
  scInCore.concat(scInCore2, scInSparse),
  mncInCore.concat(mncInCore2, mncInSparse),
  ecpInCore.concat(ecpInCore2, ecpInSparse),
  r2ccpInCore.concat(r2ccpInCore2, r2ccpInSparse),
  r2c2rInCore.concat(r2c2rInCore2, r2c2rInSparse),
  apsInCore.concat(apsInCore2, apsInSparse)];
const panelOut = [scOut, mncOut, ecpOut, r2ccpOut, r2c2rOut, apsOut];

const F = "'DejaVu Sans', sans-serif";
const BLUE = 'rgba(74,155,224,0.8)';
const RED = 'rgba(234,104,112,0.8)';
const toXY = a => a.map(p => ({x: p[0], y: p[1]}));

const frame = {
  id: 'frame',
  afterDraw(chart) {
    const {ctx, chartArea: a} = chart;
    ctx.save();
    ctx.strokeStyle = '#000';
    ctx.lineWidth = 1.3;
    ctx.strokeRect(a.left, a.top, a.right - a.left, a.bottom - a.top);
    ctx.restore();
  }
};

function makePanel(i) {
  const col = i % 3, row = Math.floor(i / 3);
  const cv = document.createElement('canvas');
  cv.width = 410; cv.height = 235;
  cv.style.left = (417 * col) + 'px';
  cv.style.top = (235 * row) + 'px';
  document.body.appendChild(cv);
  new Chart(cv, {
    type: 'scatter',
    data: { datasets: [
      { label: seriesNames[1], data: toXY(panelOut[i]), backgroundColor: RED, pointRadius: 2.8, pointBorderWidth: 0, borderWidth: 0, order: 1 },
      { label: seriesNames[0], data: toXY(panelIn[i]), backgroundColor: BLUE, pointRadius: 2.8, pointBorderWidth: 0, borderWidth: 0, order: 2 }
    ]},
    options: {
      responsive: false, animation: false, events: [],
      layout: { padding: { left: 0, top: 0, right: 23.7, bottom: 0 } },
      plugins: {
        legend: { display: false }, tooltip: { enabled: false },
        title: { display: true, text: titles[i], fullSize: false, color: '#000',
          font: { family: F, size: 20.4, weight: 'normal', lineHeight: 1.2 }, padding: { top: 3.7, bottom: 4.3 } }
      },
      scales: {
        x: {
          type: 'linear', min: 0, max: 200.5,
          afterBuildTicks: s => { s.ticks = xTicks.map(v => ({ value: v })); },
          afterFit: s => { s.height = 56; s.paddingLeft = 0; s.paddingRight = 0; },
          ticks: { color: '#000', font: { family: F, size: 17 }, padding: 6, maxRotation: 0, autoSkip: false,
            callback: (v, k) => xTickLabels[k] },
          grid: { color: '#cbcbcb', lineWidth: 1, drawTicks: true, tickLength: 5, tickColor: '#000', tickWidth: 1.2 },
          border: { display: false, dash: [5, 2.2] },
          title: { display: true, text: 'Area (mm²)', color: '#000', font: { family: F, size: 17, lineHeight: 1.2 }, padding: { top: 0, bottom: 1.1 } }
        },
        y: {
          type: 'linear', min: 0, max: 11.2,
          afterBuildTicks: s => { s.ticks = yTicks.map(v => ({ value: v })); },
          afterFit: s => { s.width = 68.3; s.paddingTop = 0; s.paddingBottom = 0; },
          ticks: { color: '#000', font: { family: F, size: 17 }, padding: 3,
            callback: (v, k) => yTickLabels[k] },
          grid: { color: '#cbcbcb', lineWidth: 1, drawTicks: true, tickLength: 5, tickColor: '#000', tickWidth: 1.2 },
          border: { display: false, dash: [5, 2.2] },
          title: { display: true, text: 'Error (mm)', color: '#000', font: { family: F, size: 17, lineHeight: 1.2 }, padding: { top: 9.3, bottom: 0 } }
        }
      }
    },
    plugins: [frame]
  });
}
for (let i = 0; i < 6; i++) makePanel(i);

// legend
const lg = document.getElementById('legend');
const items = [{ name: seriesNames[0], color: BLUE, dotX: 23.2, textX: 53.3 }, { name: seriesNames[1], color: RED, dotX: 185.2, textX: 216 }];
items.forEach(it => {
  const d = document.createElement('div');
  d.className = 'dot'; d.style.background = it.color;
  d.style.left = it.dotX + 'px'; d.style.top = '11.5px';
  lg.appendChild(d);
  const t = document.createElement('span');
  t.className = 'lt'; t.textContent = it.name;
  t.style.left = it.textX + 'px'; t.style.top = '2.5px';
  lg.appendChild(t);
});
</script>
</body></html>
